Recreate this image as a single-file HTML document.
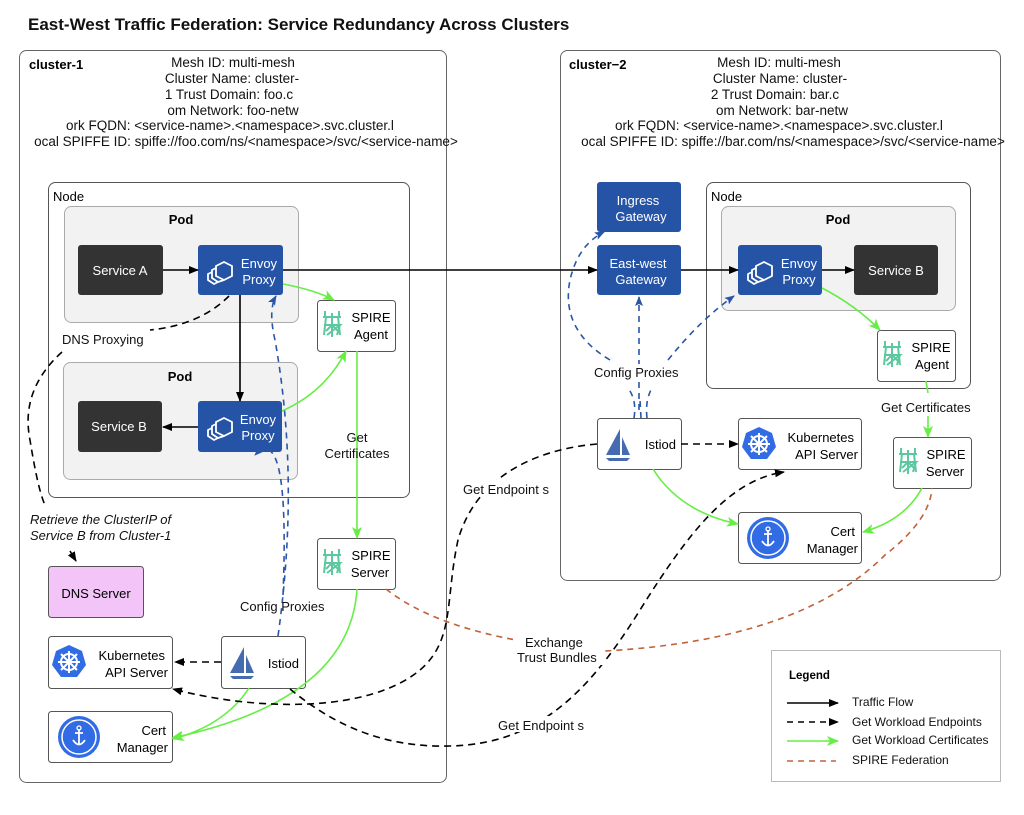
<!DOCTYPE html>
<html><head><meta charset="utf-8"><style>
html,body{margin:0;padding:0;background:#fff;width:1024px;height:815px;overflow:hidden}
svg text{font-family:"Liberation Sans",Arial,sans-serif;}
</style></head><body>
<svg width="1024" height="815" viewBox="0 0 1024 815" xmlns="http://www.w3.org/2000/svg">
<defs>
<marker id="ab" markerWidth="10" markerHeight="8" refX="9" refY="4" orient="auto" markerUnits="userSpaceOnUse"><path d="M0,0 L10,4 L0,8 z" fill="#000"/></marker>
<marker id="ag" markerWidth="12" markerHeight="10" refX="11" refY="5" orient="auto" markerUnits="userSpaceOnUse"><path d="M0,0 L12,5 L0,10 L3,5 z" fill="#66ee44"/></marker>
<marker id="au" markerWidth="10" markerHeight="8" refX="9" refY="4" orient="auto" markerUnits="userSpaceOnUse"><path d="M0,0 L10,4 L0,8 L2,4 z" fill="#2b55a8"/></marker>
<g id="spire"><g stroke="#5cc8a0" stroke-width="2" fill="none"><path d="M4,2 L4,8 M18,2 L18,8 M2,8 L20,8 M11,4 L11,28 M5,8 L3,26 M17,8 L19,26 M3,16 L19,16 L6,26 M19,16 L16,26 M11,16 L5,22 M11,16 L17,22"/></g></g>
<g id="k8s"><polygon points="0,-17 13,-11 17,3 8,15 -8,15 -17,3 -13,-11" fill="#326ce5"/><circle r="8" fill="none" stroke="#fff" stroke-width="2"/><g stroke="#fff" stroke-width="2"><path d="M0,-11 L0,11 M-11,0 L11,0 M-8,-8 L8,8 M8,-8 L-8,8"/></g><circle r="2.5" fill="#fff"/></g>
<g id="cert"><circle r="21" fill="#326ce5"/><circle r="17" fill="none" stroke="#fff" stroke-width="1.5"/><path d="M0,-8 L0,8 M-6,3 Q0,12 6,3 M-4,-4 L4,-4" stroke="#fff" stroke-width="1.8" fill="none"/><circle cx="0" cy="-9" r="2" fill="none" stroke="#fff" stroke-width="1.3"/></g>
<g id="istio"><path d="M2,0 L2,26 L-12,26 z" fill="#466bb0"/><path d="M4,8 L4,26 L12,26 z" fill="#466bb0"/><path d="M-12,29 L12,29 L9,32 L-9,32 z" fill="#466bb0"/></g>
<g id="envoy" fill="none" stroke="#fff" stroke-width="1.8"><path d="M6,-8 L14,-4 L14,6 L6,10 L-2,6 L-2,-4 z"/><path d="M-2,-2 L-6,0 L-6,8 L0,12 L6,10"/><path d="M-6,2 L-10,4 L-10,10 L-4,14 L0,12"/></g>
</defs>

<text x="28" y="30" font-size="17" font-weight="bold" fill="#111">East-West Traffic Federation: Service Redundancy Across Clusters</text>

<!-- cluster 1 -->
<rect x="19.5" y="50.5" width="427" height="732" rx="7" fill="#fff" stroke="#666"/>
<text x="29" y="69" font-size="13" font-weight="bold">cluster-1</text>
<g font-size="13.5" text-anchor="middle" fill="#111">
<text x="233" y="67">Mesh ID: multi-mesh</text>
<text x="232" y="83">Cluster Name: cluster-</text>
<text x="229" y="99">1 Trust Domain: foo.c</text>
<text x="233" y="115">om Network: foo-netw</text>
<text x="230" y="130">ork FQDN: &lt;service-name&gt;.&lt;namespace&gt;.svc.cluster.l</text>
<text x="246" y="146">ocal SPIFFE ID: spiffe://foo.com/ns/&lt;namespace&gt;/svc/&lt;service-name&gt;</text>
</g>
<rect x="48.5" y="182.5" width="361" height="315" rx="7" fill="#fff" stroke="#555"/>
<text x="53" y="201" font-size="13">Node</text>
<rect x="64.5" y="206.5" width="234" height="116" rx="7" fill="#f2f2f2" stroke="#aaa"/>
<text x="181" y="224" font-size="13" font-weight="bold" text-anchor="middle">Pod</text>
<rect x="63.5" y="362.5" width="234" height="117" rx="7" fill="#f2f2f2" stroke="#aaa"/>
<text x="180" y="381" font-size="13" font-weight="bold" text-anchor="middle">Pod</text>
<rect x="78" y="245" width="85" height="50" rx="3" fill="#333"/>
<text x="120" y="275" font-size="13" fill="#fff" text-anchor="middle">Service A</text>
<rect x="198" y="245" width="85" height="50" rx="3" fill="#2553a5"/>
<use href="#envoy" x="218" y="270"/>
<text x="259" y="268" font-size="13" fill="#fff" text-anchor="middle">Envoy</text>
<text x="259" y="284" font-size="13" fill="#fff" text-anchor="middle">Proxy</text>
<rect x="78" y="401" width="84" height="51" rx="3" fill="#333"/>
<text x="119" y="431" font-size="13" fill="#fff" text-anchor="middle">Service B</text>
<rect x="198" y="401" width="84" height="51" rx="3" fill="#2553a5"/>
<use href="#envoy" x="218" y="426"/>
<text x="258" y="424" font-size="13" fill="#fff" text-anchor="middle">Envoy</text>
<text x="258" y="440" font-size="13" fill="#fff" text-anchor="middle">Proxy</text>

<rect x="317.5" y="300.5" width="78" height="51" rx="3" fill="#fff" stroke="#555"/>
<use href="#spire" x="321" y="309"/>
<text x="371" y="322" font-size="13" text-anchor="middle">SPIRE</text>
<text x="371" y="339" font-size="13" text-anchor="middle">Agent</text>
<rect x="317.5" y="538.5" width="78" height="51" rx="3" fill="#fff" stroke="#555"/>
<use href="#spire" x="321" y="547"/>
<text x="371" y="560" font-size="13" text-anchor="middle">SPIRE</text>
<text x="370" y="577" font-size="13" text-anchor="middle">Server</text>

<rect x="48.5" y="566.5" width="95" height="51" rx="3" fill="#f2c4f7" stroke="#555"/>
<text x="96" y="598" font-size="13" text-anchor="middle">DNS Server</text>
<rect x="48.5" y="636.5" width="124" height="52" rx="3" fill="#fff" stroke="#555"/>
<use href="#k8s" x="69" y="662"/>
<text x="165" y="660" font-size="13" text-anchor="end">Kubernetes</text>
<text x="168" y="677" font-size="13" text-anchor="end">API Server</text>
<rect x="221.5" y="636.5" width="84" height="52" rx="3" fill="#fff" stroke="#555"/>
<use href="#istio" x="242" y="647"/>
<text x="299" y="668" font-size="13" text-anchor="end">Istiod</text>
<rect x="48.5" y="711.5" width="124" height="51" rx="3" fill="#fff" stroke="#555"/>
<use href="#cert" x="79" y="737"/>
<text x="166" y="735" font-size="13" text-anchor="end">Cert</text>
<text x="168" y="752" font-size="13" text-anchor="end">Manager</text>

<!-- cluster 2 -->
<rect x="560.5" y="50.5" width="440" height="530" rx="7" fill="#fff" stroke="#666"/>
<text x="569" y="69" font-size="13" font-weight="bold">cluster−2</text>
<g font-size="13.5" text-anchor="middle" fill="#111">
<text x="779" y="67">Mesh ID: multi-mesh</text>
<text x="780" y="83">Cluster Name: cluster-</text>
<text x="775" y="99">2 Trust Domain: bar.c</text>
<text x="782" y="115">om Network: bar-netw</text>
<text x="779" y="130">ork FQDN: &lt;service-name&gt;.&lt;namespace&gt;.svc.cluster.l</text>
<text x="793" y="146">ocal SPIFFE ID: spiffe://bar.com/ns/&lt;namespace&gt;/svc/&lt;service-name&gt;</text>
</g>
<rect x="706.5" y="182.5" width="264" height="206" rx="7" fill="#fff" stroke="#555"/>
<text x="711" y="201" font-size="13">Node</text>
<rect x="721.5" y="206.5" width="234" height="104" rx="7" fill="#f2f2f2" stroke="#aaa"/>
<text x="838" y="224" font-size="13" font-weight="bold" text-anchor="middle">Pod</text>
<rect x="597" y="182" width="84" height="50" rx="3" fill="#2553a5"/>
<text x="638" y="205" font-size="13" fill="#fff" text-anchor="middle">Ingress</text>
<text x="641" y="221" font-size="13" fill="#fff" text-anchor="middle">Gateway</text>
<rect x="597" y="245" width="84" height="50" rx="3" fill="#2553a5"/>
<text x="638" y="268" font-size="13" fill="#fff" text-anchor="middle">East-west</text>
<text x="641" y="284" font-size="13" fill="#fff" text-anchor="middle">Gateway</text>
<rect x="738" y="245" width="84" height="50" rx="3" fill="#2553a5"/>
<use href="#envoy" x="758" y="270"/>
<text x="799" y="268" font-size="13" fill="#fff" text-anchor="middle">Envoy</text>
<text x="799" y="284" font-size="13" fill="#fff" text-anchor="middle">Proxy</text>
<rect x="854" y="245" width="84" height="50" rx="3" fill="#333"/>
<text x="896" y="275" font-size="13" fill="#fff" text-anchor="middle">Service B</text>
<rect x="877.5" y="330.5" width="78" height="51" rx="3" fill="#fff" stroke="#555"/>
<use href="#spire" x="881" y="339"/>
<text x="931" y="352" font-size="13" text-anchor="middle">SPIRE</text>
<text x="932" y="369" font-size="13" text-anchor="middle">Agent</text>
<rect x="893.5" y="437.5" width="78" height="51" rx="3" fill="#fff" stroke="#555"/>
<use href="#spire" x="897" y="446"/>
<text x="946" y="459" font-size="13" text-anchor="middle">SPIRE</text>
<text x="945" y="476" font-size="13" text-anchor="middle">Server</text>
<rect x="597.5" y="418.5" width="84" height="51" rx="3" fill="#fff" stroke="#555"/>
<use href="#istio" x="618" y="429"/>
<text x="676" y="449" font-size="13" text-anchor="end">Istiod</text>
<rect x="738.5" y="418.5" width="123" height="51" rx="3" fill="#fff" stroke="#555"/>
<use href="#k8s" x="759" y="444"/>
<text x="854" y="442" font-size="13" text-anchor="end">Kubernetes</text>
<text x="858" y="459" font-size="13" text-anchor="end">API Server</text>
<rect x="738.5" y="512.5" width="123" height="51" rx="3" fill="#fff" stroke="#555"/>
<use href="#cert" x="768" y="538"/>
<text x="855" y="536" font-size="13" text-anchor="end">Cert</text>
<text x="858" y="553" font-size="13" text-anchor="end">Manager</text>

<!-- connectors: black solid -->
<g stroke="#000" stroke-width="1.6" fill="none" marker-end="url(#ab)">
<path d="M163,270 L198,270"/>
<path d="M283,270 L597,270"/>
<path d="M681,270 L738,270"/>
<path d="M822,270 L854,270"/>
<path d="M240,295 L240,401"/>
<path d="M198,427 L163,427"/>
</g>
<!-- green -->
<g stroke="#66ee44" stroke-width="1.6" fill="none" marker-end="url(#ag)">
<path d="M283,284 Q315,290 334,300"/>
<path d="M282,411 Q325,392 346,351"/>
<path d="M357,351 L357,538"/>
<path d="M822,288 Q855,305 880,330"/>
<path d="M928,416 L928,437"/>
<path d="M357,589 Q350,700 172,738"/>
<path d="M249,688 Q225,725 173,739"/>
<path d="M653,469 Q680,512 738,524"/>
<path d="M922,488 Q905,520 863,532"/>
</g>
<path d="M926,381 L928,393" stroke="#66ee44" stroke-width="1.6"/>
<!-- blue dashed -->
<g stroke="#2b55a8" stroke-width="1.6" fill="none" stroke-dasharray="6,5" marker-end="url(#au)">
<path d="M283,595 Q290,420 255,455"/>
<path d="M278,636 Q300,480 275,340 Q268,310 276,296"/>
<path d="M610,360 Q560,330 570,280 Q578,245 604,232"/>
<path d="M639,410 L639,297"/>
<path d="M668,360 Q700,320 734,296"/>
<path d="M634,418 Q637,400 628,388" marker-end="none"/>
<path d="M641,418 L640,400" marker-end="none"/>
<path d="M647,418 Q645,400 652,388" marker-end="none"/>
</g>
<!-- black dashed -->
<g stroke="#000" stroke-width="1.6" fill="none" stroke-dasharray="7,5">
<path d="M229,296 Q200,325 150,330"/>
<path d="M62,352 Q20,390 30,440 Q38,490 45,505"/>
<path d="M221,662 L175,662" marker-end="url(#ab)"/>
<path d="M681,444 L738,444" marker-end="url(#ab)"/>
<path d="M597,444 C530,450 475,480 458,540 C445,600 455,640 420,670 C370,712 260,712 173,689" marker-end="url(#ab)"/>
<path d="M290,689 C330,722 380,748 450,746 C540,744 590,690 640,610 C690,530 730,480 784,472" marker-end="url(#ab)"/>
</g>
<path d="M70,551 L76,561" stroke="#000" stroke-width="1.6" marker-end="url(#ab)"/>
<!-- orange -->
<path d="M386,589 Q450,640 605,651 Q800,640 885,555 Q930,520 932,488" stroke="#c0623a" stroke-width="1.6" fill="none" stroke-dasharray="6,5"/>

<!-- labels -->
<g font-size="13" fill="#111">
<rect x="60" y="330" width="90" height="16" fill="#fff"/>
<text x="62" y="344">DNS Proxying</text>
<text x="357" y="442" text-anchor="middle">Get</text>
<text x="357" y="458" text-anchor="middle">Certificates</text>
<text x="30" y="524" font-style="italic">Retrieve the ClusterIP of</text>
<text x="30" y="540" font-style="italic">Service B from Cluster-1</text>
<text x="240" y="611">Config Proxies</text>
<rect x="460" y="480" width="92" height="16" fill="#fff"/>
<text x="463" y="494">Get Endpoint s</text>
<rect x="590" y="364" width="96" height="16" fill="#fff"/>
<text x="594" y="377">Config Proxies</text>
<text x="881" y="412">Get Certificates</text>
<rect x="515" y="633" width="90" height="32" fill="#fff"/>
<text x="525" y="647">Exchange</text>
<text x="517" y="662">Trust Bundles</text>
<rect x="495" y="716" width="92" height="16" fill="#fff"/>
<text x="498" y="730">Get Endpoint s</text>
</g>

<!-- legend -->
<rect x="771.5" y="650.5" width="229" height="131" fill="#fff" stroke="#bbb"/>
<text x="789" y="679" font-size="11.5" font-weight="bold">Legend</text>
<g font-size="12" fill="#111">
<path d="M787,703 L838,703" stroke="#000" stroke-width="1.6" marker-end="url(#ab)"/>
<text x="852" y="706">Traffic Flow</text>
<path d="M787,722 L838,722" stroke="#000" stroke-width="1.6" stroke-dasharray="6,5" marker-end="url(#ab)"/>
<text x="852" y="726">Get Workload Endpoints</text>
<path d="M787,741 L838,741" stroke="#66ee44" stroke-width="1.6" marker-end="url(#ag)"/>
<text x="852" y="744">Get Workload Certificates</text>
<path d="M787,761 L836,761" stroke="#c0623a" stroke-width="1.6" stroke-dasharray="6,5"/>
<text x="852" y="764">SPIRE Federation</text>
</g>
</svg>
</body></html>
